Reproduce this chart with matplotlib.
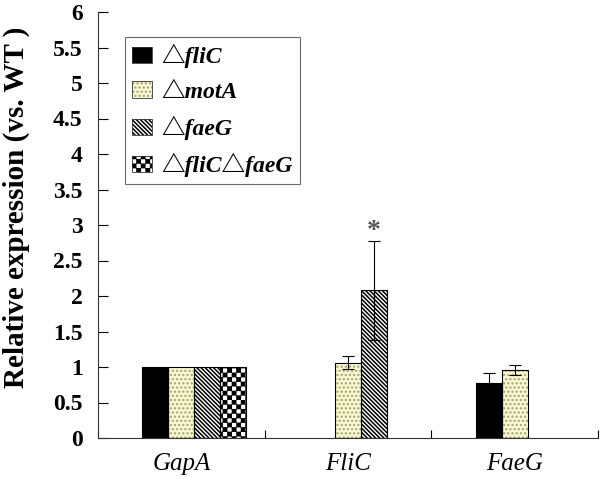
import warnings
warnings.filterwarnings("ignore")
import numpy as np
import matplotlib
matplotlib.use("Agg")
import matplotlib.pyplot as plt
import matplotlib.hatch as mhatch
from matplotlib.path import Path
from matplotlib.patches import Patch

# ---------------- data ----------------
genes = ["GapA", "FliC", "FaeG"]
series = ["△fliC", "△motA", "△faeG", "△fliC△faeG"]
val_fliC = [1.0, np.nan, 0.78]
val_motA = [1.0, 1.06, 0.96]
val_faeG = [1.0, 2.08, np.nan]
val_double = [1.0, np.nan, np.nan]
err_fliC = [np.nan, np.nan, 0.13]
err_motA = [np.nan, 0.09, 0.07]
err_faeG = [np.nan, 0.70, np.nan]
err_double = [np.nan, np.nan, np.nan]
yticks = [0, 0.5, 1, 1.5, 2, 2.5, 3, 3.5, 4, 4.5, 5, 5.5, 6]
star_gene = "FliC"
star_series = "△faeG"


# ---------------- custom checkerboard hatch ----------------
class CheckerHatch(mhatch.HatchPatternBase):
    def __init__(self, hatch, density):
        self.n = 11 if "c" in hatch else 0
        N = 2 * self.n
        self.num_vertices = (N * N // 2) * 5

    def set_vertices_and_codes(self, vertices, codes):
        N = 2 * self.n
        s = 1.0 / N
        inset = 0.006
        k = 0
        for i in range(N):
            for j in range(N):
                if (i + j) % 2 == 0:
                    x0, y0 = i * s + inset, j * s + inset
                    x1, y1 = (i + 1) * s - inset, (j + 1) * s - inset
                    vertices[k:k + 5] = [[x0, y0], [x1, y0], [x1, y1], [x0, y1], [x0, y0]]
                    codes[k:k + 5] = [Path.MOVETO, Path.LINETO, Path.LINETO,
                                      Path.LINETO, Path.CLOSEPOLY]
                    k += 5


mhatch._hatch_types.append(CheckerHatch)

plt.rcParams["hatch.linewidth"] = 1.1

values = [val_fliC, val_motA, val_faeG, val_double]
errors = [err_fliC, err_motA, err_faeG, err_double]
styles = [
    dict(face="black", hcol="black", hatch=None),
    dict(face="#fbf9cf", hcol="#a3a27a", hatch="...."),
    dict(face="white", hcol="black", hatch="\\" * 8),
    dict(face="white", hcol="black", hatch="c"),
]

fig = plt.figure(figsize=(6.0, 4.79), dpi=100)
ax = fig.add_axes([98 / 600, 41 / 479, 500 / 600, 426 / 479])

serif = ["Liberation Serif", "DejaVu Serif"]
w = 0.156
xc = np.arange(len(genes))
handles = []
for i, (vals, errs, st) in enumerate(zip(values, errors, styles)):
    vals = np.asarray(vals, float)
    errs = np.asarray(errs, float)
    m = ~np.isnan(vals)
    x = xc[m] + (i - 1) * w
    ax.bar(x, vals[m], w, color=st["face"], edgecolor=st["hcol"], linewidth=0,
           hatch=st["hatch"], zorder=2)
    ax.bar(x, vals[m], w, fill=False, edgecolor="black", linewidth=0.8, zorder=3)
    me = m & ~np.isnan(errs)
    if me.any():
        ax.errorbar(xc[me] + (i - 1) * w, vals[me], yerr=errs[me], fmt="none",
                    ecolor="black", elinewidth=0.8, capsize=4.5, capthick=0.8,
                    zorder=4)
    h1 = Patch(facecolor=st["face"], edgecolor=st["hcol"], linewidth=0,
               hatch=st["hatch"])
    h2 = Patch(fill=False, edgecolor="#333333", linewidth=0.6)
    handles.append((h1, h2))

# asterisk
gi = genes.index(star_gene)
si = series.index(star_series)
ytop = values[si][gi] + errors[si][gi]
ax.text(xc[gi] + (si - 1) * w, ytop - 0.05, "*", ha="center", va="bottom",
        fontsize=20, fontweight="bold", color="#555555", family=serif)

ax.set_xlim(-0.5, len(genes) - 0.5)
ax.set_ylim(0, 6)
ax.set_yticks(yticks)
ax.set_yticklabels([f"{t:g}" for t in yticks], fontsize=17, fontweight="bold",
                   family=serif)
ax.tick_params(axis="y", direction="in", length=7, width=0.8, pad=11)

ax.set_xticks(np.arange(len(genes) + 1) - 0.5)
ax.set_xticklabels([])
ax.tick_params(axis="x", which="major", direction="in", length=6, width=0.8)
ax.set_xticks(xc, minor=True)
ax.set_xticklabels(genes, minor=True, fontsize=18, fontstyle="italic",
                   family=serif)
ax.tick_params(axis="x", which="minor", length=0, pad=11)

for s in ["top", "right"]:
    ax.spines[s].set_visible(False)
for s in ["left", "bottom"]:
    ax.spines[s].set_linewidth(0.8)
    ax.spines[s].set_color("#333333")

ax.set_ylabel("Relative expression (vs. WT )", fontsize=21, fontweight="bold",
              family=serif)
ax.yaxis.set_label_coords(-0.136, 0.542)

leg = ax.legend(handles, series, loc="upper left", bbox_to_anchor=(0.054, 0.941),
                borderaxespad=0, fancybox=False, frameon=True,
                prop=dict(family=["Liberation Serif", "Noto Sans CJK SC", "DejaVu Serif"],
                          weight="bold", style="italic", size=17),
                handlelength=0.85, handleheight=0.7, handletextpad=0.4,
                labelspacing=0.55, borderpad=0.3)
leg.get_frame().set_edgecolor("#444444")
leg.get_frame().set_linewidth(0.8)

fig.savefig("out.png", dpi=100)
